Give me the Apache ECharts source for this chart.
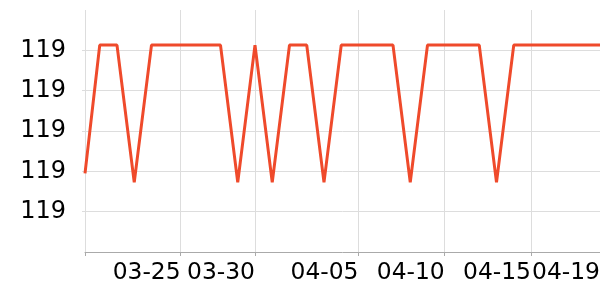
<!DOCTYPE html>
<html>
<head>
<meta charset="utf-8">
<script src="https://cdn.jsdelivr.net/npm/echarts@6/dist/echarts.min.js"></script>
<style>html,body{margin:0;padding:0;background:#fff}#c{width:600px;height:300px}</style>
</head>
<body>
<div id="c"></div>
<script>
var dates = ['2024-03-20 03:30','2024-03-21','2024-03-22','2024-03-23','2024-03-24','2024-03-25','2024-03-26','2024-03-27',
  '2024-03-28','2024-03-29','2024-03-30','2024-03-31','2024-04-01','2024-04-02','2024-04-03','2024-04-04',
  '2024-04-05','2024-04-06','2024-04-07','2024-04-08','2024-04-09','2024-04-10','2024-04-11','2024-04-12',
  '2024-04-13','2024-04-14','2024-04-15','2024-04-16','2024-04-17','2024-04-18','2024-04-19'];
var values = [118.979,119.0426,119.0426,118.9745,119.0426,119.0426,119.0426,119.0426,
  119.0426,118.9745,119.0426,118.9745,119.0426,119.0426,118.9745,119.0426,
  119.0426,119.0426,119.0426,118.9745,119.0426,119.0426,119.0426,119.0426,
  118.9745,119.0426,119.0426,119.0426,119.0426,119.0426,119.0426];
var xTicks = ['2024-03-20 03:30','2024-03-25 16:30','2024-03-30','2024-04-05','2024-04-10','2024-04-15','2024-04-19'];
var xTickLabels = ['2024-03-25 16:30','2024-03-30','2024-04-05','2024-04-10','2024-04-15','2024-04-19'];
var yTicks = [118.96, 118.98, 119.00, 119.02, 119.04];

function toMs(s){
  var p = s.split(' '), d = p[0].split('-'), t = (p[1]||'00:00').split(':');
  return new Date(+d[0], +d[1]-1, +d[2], +t[0], +t[1]).getTime();
}
function pad(n){return (n<10?'0':'')+n;}
var chart = echarts.init(document.getElementById('c'), null, {renderer:'canvas'});
chart.setOption({
  animation: false,
  grid: {left: 85, right: 0, top: 10, bottom: 48, containLabel: false, outerBoundsMode: 'none'},
  xAxis: {
    type: 'value',
    scale: true,
    min: toMs(xTicks[0]),
    max: toMs(xTicks[xTicks.length-1]),
    axisLine: {show: true, lineStyle: {color: '#aaa', width: 1}},
    axisTick: {show: true, length: 4, lineStyle: {color: '#aaa'}, customValues: xTicks.map(toMs)},
    splitLine: {show: true, lineStyle: {color: '#ddd', width: 1}},
    axisLabel: {
      customValues: xTickLabels.map(toMs),
      align: 'right',
      margin: 9,
      fontSize: 23.4,
      fontFamily: 'DejaVu Sans',
      color: '#000',
      hideOverlap: false,
      showMinLabel: true,
      showMaxLabel: true,
      formatter: function(v){var d=new Date(v);return pad(d.getMonth()+1)+'-'+pad(d.getDate());}
    }
  },
  yAxis: {
    type: 'value',
    min: 118.94,
    max: 119.06,
    interval: 0.02,
    axisLine: {show: false},
    axisTick: {show: true, length: 3, lineStyle: {color: '#ddd'}, customValues: yTicks},
    splitLine: {show: true, lineStyle: {color: '#ddd', width: 1}},
    axisLabel: {
      customValues: yTicks,
      align: 'right',
      margin: 19,
      fontSize: 24,
      fontFamily: 'DejaVu Sans',
      color: '#000',
      formatter: function(v){return String(Math.round(v));}
    }
  },
  series: [{
    type: 'line',
    data: dates.map(function(d,i){return [toMs(d), values[i]];}),
    showSymbol: false,
    symbol: 'none',
    lineStyle: {color: '#ef4a2b', width: 3},
    itemStyle: {color: '#ef4a2b'},
    clip: true
  }]
});
</script>
</body>
</html>
